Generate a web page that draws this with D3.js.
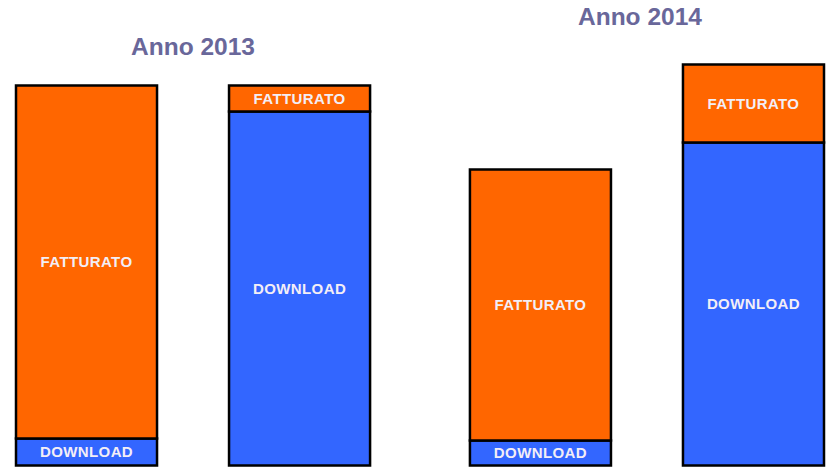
<!DOCTYPE html>
<meta charset="utf-8">
<script src="https://d3js.org/d3.v7.min.js"></script>
<style>
body { margin: 0; background: #fff; font-family: "Liberation Sans", Arial, sans-serif; }
</style>
<body>
<div id="vis"></div>
<script>

var years = ["2013", "2014"];
var barIds = ["a", "b"];
var segments = ["DOWNLOAD", "FATTURATO"];
// one value per bar, in drawing order
var downloadValues = [27, 354, 25, 323];
var fatturatoValues = [353, 26, 271, 78];
var titles = ["Anno 2013", "Anno 2014"];

var width = 830, height = 467;

var data = downloadValues.map(function(d, i) {
  return {
    year: years[Math.floor(i / 2)],
    bar: barIds[i % 2],
    DOWNLOAD: d,
    FATTURATO: fatturatoValues[i]
  };
});

var color = d3.scaleOrdinal()
  .domain(segments)
  .range(["#3366ff", "#ff6600"]);

var x0 = d3.scaleBand()
  .domain(years)
  .range([16, 824])
  .paddingInner(0.22);

var x1 = d3.scaleBand()
  .domain(barIds)
  .range([0, x0.bandwidth()])
  .paddingInner(0.338);

var y = d3.scaleLinear()
  .domain([0, 400])
  .range([465.5, 65.5]);

var stack = d3.stack().keys(segments);
var series = stack(data);

var svg = d3.select("#vis").append("svg")
  .attr("width", width)
  .attr("height", height);

var layers = svg.selectAll(".layer")
  .data(series)
  .enter().append("g")
  .attr("class", "layer");

layers.selectAll("rect")
  .data(function(s) { return s.map(function(p) { p.key = s.key; return p; }); })
  .enter().append("rect")
  .attr("x", function(d) { return x0(d.data.year) + x1(d.data.bar); })
  .attr("width", x1.bandwidth())
  .attr("y", function(d) { return y(d[1]); })
  .attr("height", function(d) { return y(d[0]) - y(d[1]); })
  .style("fill", function(d) { return color(d.key); })
  .style("stroke", "#000")
  .style("stroke-width", 2.5);

layers.selectAll("text")
  .data(function(s) { return s; })
  .enter().append("text")
  .attr("x", function(d) { return x0(d.data.year) + x1(d.data.bar) + x1.bandwidth() / 2; })
  .attr("y", function(d) { return (y(d[0]) + y(d[1])) / 2; })
  .attr("dy", "0.36em")
  .attr("text-anchor", "middle")
  .style("fill", "#f3eef6")
  .style("font-size", "15px")
  .style("font-weight", "bold")
  .style("letter-spacing", "0.4px")
  .text(function(d) { return d.key; });

// year titles sit above each group
var titleY = { "2013": 55, "2014": 25 };
svg.selectAll(".title")
  .data(years)
  .enter().append("text")
  .attr("class", "title")
  .attr("x", function(d) { return x0(d) + x0.bandwidth() / 2 - (d === "2014" ? 7 : 0); })
  .attr("y", function(d) { return titleY[d]; })
  .attr("text-anchor", "middle")
  .style("fill", "#69679a")
  .style("font-size", "24.5px")
  .style("font-weight", "bold")
  .text(function(d, i) { return titles[i]; });

</script>
</body>
